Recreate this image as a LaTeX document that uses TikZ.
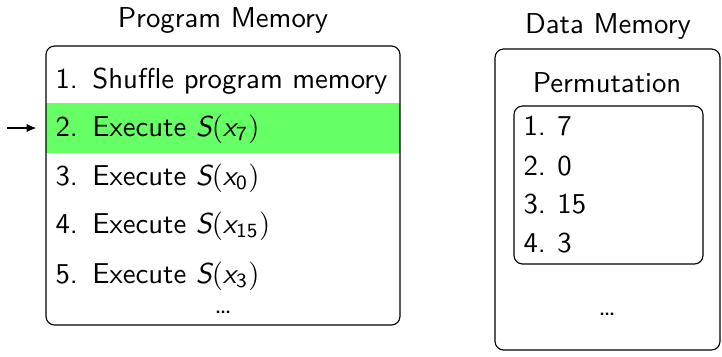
\documentclass[tikz,border=0pt]{standalone}
\usetikzlibrary{arrows.meta}
\newcommand{\ilab}[2]{\makebox[#1][l]{#2}}
\newcommand{\Sx}[1]{$\textit{S}(\textit{x}_{\mathsf{#1}})$}
\def\pu{0.348pt}
\begin{document}
\begin{tikzpicture}[x=\pu,y=-\pu,font=\sffamily,
  txt/.style={anchor=base west,inner sep=0pt},
  ctxt/.style={anchor=base,inner sep=0pt},
  mbox/.style={draw,rounded corners=3pt,inner sep=0pt,line width=0.4pt},
  band/.style={fill=green!60,inner sep=0pt,draw=none}]
\useasboundingbox (0,0) rectangle (722,356);
% left box
\node[band,minimum width={354*\pu},minimum height={50*\pu}] (cur) at (223,128) {};
\node[mbox,minimum width={354*\pu},minimum height={279*\pu}] (prog) at (223,185.5) {};
\node[ctxt] (ptitle) at (223,27) {Program Memory};
\node[txt] (p1) at (55,88) {\ilab{12.8pt}{1.}Shuffle program memory};
\node[txt] (p2) at (55,136) {\ilab{12.8pt}{2.}Execute \Sx{7}};
\node[txt] (p3) at (55,185) {\ilab{12.8pt}{3.}Execute \Sx{0}};
\node[txt] (p4) at (55,233) {\ilab{12.8pt}{4.}Execute \Sx{15}};
\node[txt] (p5) at (55,283) {\ilab{12.8pt}{5.}Execute \Sx{3}};
\node[ctxt] (pdots) at (223,313) {\dots};
\coordinate (astart) at (7,128);
\draw[-{Latex[length=3.4pt,width=2.8pt]}] (astart) -- ([xshift=-3.1pt]cur.west);
% right box
\node[mbox,minimum width={225*\pu},minimum height={301*\pu}] (data) at (607.5,199.5) {};
\node[ctxt] (dtitle) at (608,33) {Data Memory};
\node[ctxt] (permt) at (607,92) {Permutation};
\node[mbox,minimum width={189*\pu},minimum height={158*\pu}] (perm) at (608.5,185) {};
\node[txt] (d1) at (523,135) {\ilab{11.8pt}{1.}7};
\node[txt] (d2) at (523,175) {\ilab{11.8pt}{2.}0};
\node[txt] (d3) at (523,213) {\ilab{11.8pt}{3.}15};
\node[txt] (d4) at (523,252) {\ilab{11.8pt}{4.}3};
\node[ctxt] (ddots) at (607,315) {\dots};
\end{tikzpicture}
\end{document}
